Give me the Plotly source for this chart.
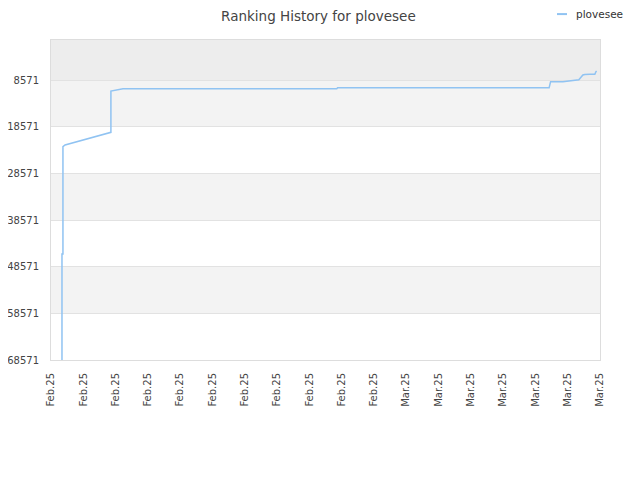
import plotly.graph_objects as go

# rank history (x = days after the first tick)
days = [0.68, 0.68, 0.74, 0.74, 0.87, 1.5, 2.2, 3.0, 3.71, 3.71, 3.96, 4.46,
        17.7, 17.75, 30.85, 30.94, 31.7, 32.07, 32.69, 32.94, 33.06, 33.37,
        33.68, 33.75, 33.79]
ranks = [68571, 45857, 45857, 22857, 22500, 21900, 21300, 20500, 19786, 10929,
         10714, 10430, 10430, 10214, 10214, 8929, 8929, 8714, 8500, 7500,
         7400, 7357, 7357, 6786, 6643]

tick_days = list(range(0, 35, 2))
tick_labels = ['Feb.25'] * 11 + ['Mar.25'] * 7
y_ticks = [8571, 18571, 28571, 38571, 48571, 58571, 68571]
y_labels = [str(v) for v in y_ticks]
bands = [(0, 8571, '#ededed'), (8571, 18571, '#f3f3f3'),
         (28571, 38571, '#f3f3f3'), (48571, 58571, '#f3f3f3')]

fig = go.Figure()
fig.add_trace(go.Scatter(x=days, y=ranks, mode='lines', name='plovesee',
                         line=dict(color='rgb(144,195,242)', width=1.5),
                         showlegend=False))

for y0, y1, c in bands:
    fig.add_shape(type='rect', xref='paper', yref='y', x0=0, x1=1, y0=y0, y1=y1,
                  fillcolor=c, line_width=0, layer='below')

# legend drawn by hand (short line + label)
fig.add_shape(type='line', xref='paper', yref='paper', x0=0.9217, x1=0.9399,
              y0=1.081, y1=1.081, line=dict(color='rgb(144,195,242)', width=2))
fig.add_annotation(text='plovesee', xref='paper', yref='paper', x=0.953, y=1.081,
                   xanchor='left', yanchor='middle', showarrow=False,
                   font=dict(size=10.5, color='#333333'))

# the page adds 8px around the plot, margins are set to make up for it
fig.update_layout(
    width=640, height=480,
    margin=dict(l=43, r=48, t=32, b=128, autoexpand=False),
    paper_bgcolor='white', plot_bgcolor='white',
    font=dict(family='DejaVu Sans', size=10, color='#444444'),
    title=dict(text='Ranking History for plovesee', x=0.485, xanchor='center',
               y=0.993, yref='container', yanchor='top', pad=dict(t=0),
               automargin=False, font=dict(size=13.5, color='#444444')),
)
fig.update_xaxes(range=[0, 34], tickvals=tick_days, ticktext=tick_labels,
                 tickangle=-90, showgrid=False, zeroline=False, automargin=False,
                 ticklabelstandoff=8,
                 showline=True, linecolor='#dddddd', mirror=True, ticks='')
fig.update_yaxes(range=[68571, 0], tickvals=y_ticks, ticktext=y_labels,
                 showgrid=True, automargin=False, ticklabelstandoff=9,
                 gridcolor='#e2e2e2', zeroline=False, showline=True,
                 linecolor='#dddddd', mirror=True, ticks='')

fig.write_html("out.html")
